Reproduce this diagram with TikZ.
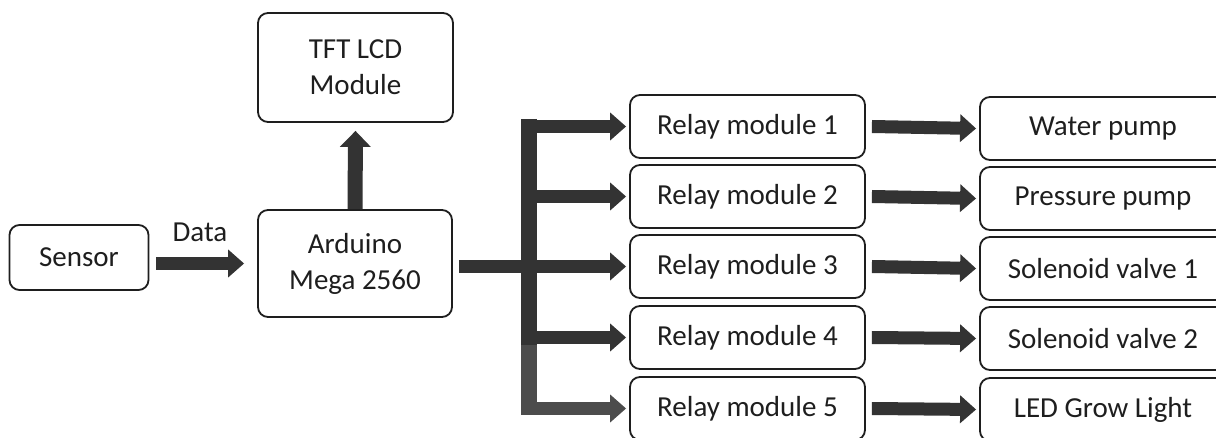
\documentclass[tikz,border=0pt]{standalone}
\usepackage{fontspec}
\setmainfont{Carlito}
\usetikzlibrary{arrows.meta}
\definecolor{ink}{HTML}{1E1E1E}
\definecolor{arr}{HTML}{333333}
\definecolor{arrlight}{HTML}{4C4C4C}
\begin{document}
\begin{tikzpicture}[x=1pt,y=-1pt,
  box/.style={draw=ink, line width=1.8pt, rounded corners=10pt, inner sep=0pt,
    font=\fontsize{29}{36}\selectfont, align=center, text=ink},
  relaybox/.style={box, minimum width=235pt, minimum height=63pt},
  outbox/.style={box, minimum width=246pt, minimum height=63pt},
  fat/.style={draw=arr, line width=13pt, -{Triangle[length=16pt,width=27pt]}},
  lbl/.style={font=\fontsize{29}{34}\selectfont, text=ink, inner sep=0pt},
]
\useasboundingbox (0,0) rectangle (1216,438);
\clip (0,0) rectangle (1216,438);

% nodes
\node[box, minimum width=139pt, minimum height=65pt] (sensor) at (79,257.5) {Sensor};
\node[box, minimum width=194pt, minimum height=107pt] (arduino) at (355,263.5) {Arduino\\Mega 2560};
\node[box, minimum width=195pt, minimum height=109pt] (tft) at (355.5,67.5) {TFT LCD\\Module};

\node[relaybox] (r1) at (747.5,126.5) {Relay module 1};
\node[relaybox] (r2) at (747.5,196.5) {Relay module 2};
\node[relaybox] (r3) at (747.5,266.5) {Relay module 3};
\node[relaybox] (r4) at (747.5,337.5) {Relay module 4};
\node[relaybox] (r5) at (747.5,408.5) {Relay module 5};

\node[outbox] (o1) at (1103,128.5) {Water pump};
\node[outbox] (o2) at (1103,198.5) {Pressure pump};
\node[outbox] (o3) at (1103,268.5) {Solenoid valve 1};
\node[outbox] (o4) at (1103,338.5) {Solenoid valve 2};
\node[outbox] (o5) at (1103,409.5) {LED Grow Light};

\node[lbl] (datalbl) at (200,232) {Data};

% sensor -> arduino
\draw[fat] ([xshift=7pt]sensor.east |- arduino) -- ([xshift=-13pt]arduino.west);
% arduino -> tft
\draw[fat, line width=15pt, -{Triangle[length=16pt,width=30pt]}] (arduino.north) -- ([yshift=-8pt]tft.south);

% bus
\coordinate (bt) at (529,119);
\coordinate (bm) at (529,345);
\coordinate (bb) at (529,415);
\coordinate (bx) at (522,0);
\draw[draw=arr, line width=16pt] (bt) -- (bm);
\draw[draw=arrlight, line width=16pt] (bm) -- (bb);
\draw[fat] ([xshift=6pt]arduino.east |- r3) -- ([xshift=-3pt]r3.west);
\draw[fat] (bx |- r1) -- ([xshift=-3pt]r1.west);
\draw[fat] (bx |- r2) -- ([xshift=-3pt]r2.west);
\draw[fat] (bx |- r4) -- ([xshift=-3pt]r4.west);
\draw[fat, draw=arrlight] (bx |- r5) -- ([xshift=-3pt]r5.west);

% relay -> outputs
\foreach \i in {1,...,5}{
  \draw[fat] ([xshift=6pt]r\i.east) -- ([xshift=-3pt]o\i.west);
}
\end{tikzpicture}
\end{document}
